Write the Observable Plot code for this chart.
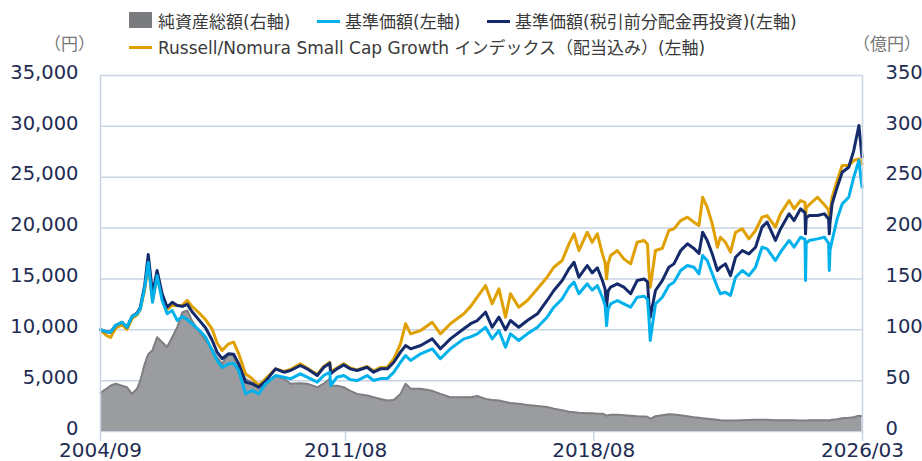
<!DOCTYPE html>
<html><head><meta charset="utf-8">
<script src="https://cdn.jsdelivr.net/npm/d3@7"></script>
<script src="https://cdn.jsdelivr.net/npm/@observablehq/plot@0.6"></script>
<style>
body{margin:0;background:#fff;}
#wrap{position:relative;width:922px;height:461px;overflow:hidden;font-family:"DejaVu Sans","Noto Sans CJK JP",sans-serif;}
#wrap svg{position:absolute;left:0;top:0;}
.lg{position:absolute;font-size:17px;line-height:20px;color:#3a3a3a;white-space:nowrap;}
.unit{position:absolute;font-size:17px;line-height:20px;color:#777;white-space:nowrap;font-family:"Noto Sans CJK JP",sans-serif;}
.sw{position:absolute;}
</style></head><body>
<div id="wrap"></div>
<script>
const dates = [
"2004-09-15","2004-11-15","2004-12-27","2005-02-18","2005-04-24","2005-06-15","2005-08-05","2005-09-27","2005-10-30","2005-12-15",
"2006-01-20","2006-03-05","2006-04-21","2006-06-12","2006-08-03","2006-09-24","2006-11-15","2007-01-05","2007-02-27","2007-04-15",
"2007-06-24","2007-09-02","2007-11-08","2007-12-30","2008-02-21","2008-04-27","2008-06-18","2008-08-09","2008-10-18","2008-12-27",
"2009-03-03","2009-05-12","2009-08-24","2009-11-18","2010-01-24","2010-05-06","2010-07-15","2010-10-27","2011-01-02","2011-03-05",
"2011-03-15","2011-05-18","2011-07-27","2011-10-03","2011-12-12","2012-03-24","2012-05-30","2012-08-09","2012-10-18","2012-12-24",
"2013-03-03","2013-04-24","2013-06-15","2013-09-27","2014-01-24","2014-04-18","2014-07-30","2014-12-15","2015-02-24","2015-05-03",
"2015-07-27","2015-10-03","2015-12-12","2016-02-18","2016-04-09","2016-07-03","2016-09-30","2017-01-12","2017-04-21","2017-06-30",
"2017-09-24","2017-12-03","2018-01-24","2018-03-15","2018-06-09","2018-07-30","2018-09-21","2018-11-12","2018-12-10","2018-12-25",
"2019-01-10","2019-02-05","2019-04-15","2019-06-21","2019-08-30","2019-11-05","2020-01-15","2020-02-20","2020-03-05","2020-03-19",
"2020-05-12","2020-07-21","2020-09-27","2020-11-18","2021-01-27","2021-04-06","2021-06-12","2021-08-03","2021-09-10","2021-10-27",
"2021-12-18","2022-02-09","2022-03-12","2022-05-03","2022-06-24","2022-08-15","2022-10-24","2022-12-30","2023-03-09","2023-05-15",
"2023-07-06","2023-09-30","2023-11-21","2024-02-18","2024-04-09","2024-06-15","2024-07-31","2024-08-05","2024-08-12","2024-09-12",
"2024-12-06","2025-02-15","2025-03-31","2025-04-07","2025-04-14","2025-05-06","2025-06-27","2025-08-18","2025-10-24","2025-12-15",
"2026-02-06","2026-03-10"];

// 基準価額 (円)
const nav = [
10000,9800,9760,10420,10740,10250,11300,11570,12060,14190,
16640,12710,15330,12880,11570,11890,10910,11300,11000,10600,
10000,9300,8000,7000,6300,6650,6700,6000,3700,4030,
3700,4680,5500,5340,5180,5670,5340,4850,5500,5830,
4520,5340,5500,5100,5010,5500,5010,5200,5200,5830,
6810,7470,6980,7640,8130,7150,8130,9110,9300,9600,
10250,9110,9930,8290,9600,8950,9600,10250,11240,12220,
13040,14190,14680,13540,14520,13900,14350,13200,12400,10400,
12000,12550,12880,12550,12220,13200,13300,13000,11240,8950,
12550,13200,14350,14680,15830,16320,16150,15500,17300,16810,
15500,14190,13540,13700,13370,15170,15830,15330,16150,18120,
17960,16810,17630,18780,18120,19100,18900,14840,18500,18780,
18940,19100,18500,15830,17800,18780,20910,22380,23030,25000,
26640,24020];

// 基準価額(税引前分配金再投資) (円)
const navReinvested = [
10000,9800,9760,10420,10740,10250,11300,11650,12200,14400,
17400,13540,15830,13540,12220,12710,12385,12300,12500,11800,
11000,10200,9000,7800,7150,7640,7600,6650,4850,4680,
4360,4950,6160,5830,6000,6490,6160,5500,6320,6720,
5700,6160,6550,6160,6000,6320,5830,6160,6160,6810,
7800,8450,8130,8450,9110,8130,9110,10100,10600,10910,
11730,10250,11240,10000,10910,10250,10910,11570,12880,13860,
14840,15990,16640,15170,16320,15600,16100,14840,14000,12300,
13800,14200,14520,14190,13540,14840,15000,14700,12550,11240,
13860,14840,16150,16480,17790,18450,18000,17500,19590,18780,
17460,15830,16150,16480,15330,17130,17790,17460,18120,20090,
20580,18780,19920,21400,20740,21890,21500,19430,21000,21230,
21230,21400,20900,19430,20500,22380,24020,25490,25980,27620,
30080,26970];

// Russell/Nomura Small Cap Growth インデックス（配当込み）
const benchmark = [
10000,9450,9240,10150,10500,10050,11100,11450,12000,14000,
16500,12900,15200,13200,12000,12400,12385,12400,12900,12300,
11700,11000,10100,8700,7960,8620,8780,7640,5670,5180,
4520,5180,6160,5900,6100,6650,6250,5600,6400,6800,
5900,6250,6650,6250,6050,6400,5950,6300,6320,7150,
8620,10590,9600,9930,10740,9600,10590,11570,12300,13200,
14350,12550,14030,11240,13540,12220,12880,14030,15170,16150,
16810,18450,19430,17790,19590,18600,19430,17460,16600,15000,
16500,17300,17790,16970,16480,18610,18780,18400,15830,14190,
17790,18000,19760,19920,20740,21070,20580,20250,23030,22050,
20410,18120,19100,18600,17630,19590,19920,18940,19760,21070,
21230,20090,21400,22710,21890,22710,22500,21000,22000,22300,
23030,22300,21800,21000,21500,23030,24670,26150,26150,26640,
26810,26310];

// 純資産総額 (億円)
const netAssets = [
38,42,45,47,45,43.5,37,42,50,66.5,
76,80,92.7,87.8,83,92.7,102.5,117,119,109,
99,89.5,81,73,66.5,76,74.7,66.5,51.8,48,
46.9,48.5,55,51.8,46.9,47.5,46.9,43.5,47,51.8,
45,45,43.5,40,37,35.4,33.7,32,30.5,31,
37,46.9,42,42,40,37,33.7,33.7,33.7,35,
32,31,30.5,29,28,27.2,26,25,24,22.3,
21,19.5,19,18.5,18,18,17.4,17.4,16.5,15.5,
16,16.5,16.5,16,15.5,15,14.7,14.5,13.5,12.5,
15,16,17,16.7,16,15,14,13.5,13,12.5,
12,11.5,11,10.8,10.8,10.8,11,11.2,11.5,11.5,
11.5,11,11,11,11,10.8,10.8,10.5,10.8,11,
11,11,11,10.5,11,11.5,12,13,13.5,14,
15.5,15];

const xTickLabels = ["2004/09","2011/08","2018/08","2026/03"];
const leftTicks = [0,5000,10000,15000,20000,25000,30000,35000];
const rightTickLabels = [0,50,100,150,200,250,300,350];

const parse = d3.utcParse("%Y-%m-%d");
const rows = dates.map((d,i)=>({
  date: parse(d), nav: nav[i], reinv: navReinvested[i], bench: benchmark[i], assets: netAssets[i]*100
}));
const tickDates = xTickLabels.map(s => { const [y,m] = s.split("/").map(Number); return new Date(Date.UTC(y, m-1, 15)); });

const gridColor = "#c9d3e2";
const textColor = "#1e2c53";
const chart = Plot.plot({
  width: 922, height: 461,
  marginLeft: 100, marginRight: 60, marginTop: 75, marginBottom: 30,
  style: {fontFamily: '"DejaVu Sans","Noto Sans CJK JP",sans-serif', background: "transparent", overflow: "visible"},
  x: {type: "utc", domain: [tickDates[0], tickDates[tickDates.length-1]]},
  y: {domain: [0, 35000]},
  marks: [
    Plot.gridY(leftTicks, {stroke: gridColor, strokeOpacity: 1, strokeWidth: 1.5}),
    Plot.areaY(rows, {x: "date", y: "assets", fill: "#9b9c9f"}),
    Plot.lineY(rows, {x: "date", y: "assets", stroke: "#7e7f82", strokeWidth: 2}),
    Plot.lineY(rows, {x: "date", y: "bench", stroke: "#dfa000", strokeWidth: 3}),
    Plot.lineY(rows, {x: "date", y: "reinv", stroke: "#142a6b", strokeWidth: 3}),
    Plot.lineY(rows, {x: "date", y: "nav", stroke: "#00b1ec", strokeWidth: 3}),
    Plot.ruleX([tickDates[0], tickDates[tickDates.length-1]], {y1: 0, y2: 35000, stroke: gridColor, strokeWidth: 1.5}),
    Plot.axisX(tickDates, {tickSize: 10, tickPadding: 1, stroke: gridColor, strokeWidth: 1.5, fill: textColor, fontSize: 20, tickFormat: d3.utcFormat("%Y/%m")}),
    Plot.axisY(leftTicks, {anchor: "left", tickSize: 0, tickPadding: 22, fill: textColor, fontSize: 19.5, dy: -3, tickFormat: d3.format(",")}),
    Plot.axisY(leftTicks, {anchor: "right", tickSize: 0, tickPadding: 23, fill: textColor, fontSize: 19.5, dy: -3, tickFormat: (d) => String(rightTickLabels[leftTicks.indexOf(d)])})
  ]
});
const wrap = document.getElementById("wrap");
wrap.appendChild(chart);

const legendHtml = `
<div class="sw" style="left:129px;top:12px;width:23px;height:16px;background:#7a7b7e"></div>
<div class="lg" style="left:158px;top:11.5px">純資産総額(右軸)</div>
<div class="sw" style="left:317px;top:19.5px;width:23px;height:3px;background:#00b1ec"></div>
<div class="lg" style="left:345px;top:11.5px">基準価額(左軸)</div>
<div class="sw" style="left:487px;top:19.5px;width:23px;height:3px;background:#142a6b"></div>
<div class="lg" style="left:515px;top:11.5px">基準価額(税引前分配金再投資)(左軸)</div>
<div class="sw" style="left:129px;top:45.5px;width:23px;height:3px;background:#dfa000"></div>
<div class="lg" style="left:158px;top:38px">Russell/Nomura Small Cap Growth インデックス（配当込み）(左軸)</div>
<div class="unit" style="left:44px;top:33px">（円）</div>
<div class="unit" style="left:853px;top:33px">（億円）</div>`;
wrap.insertAdjacentHTML("beforeend", legendHtml);
</script>
</body></html>
